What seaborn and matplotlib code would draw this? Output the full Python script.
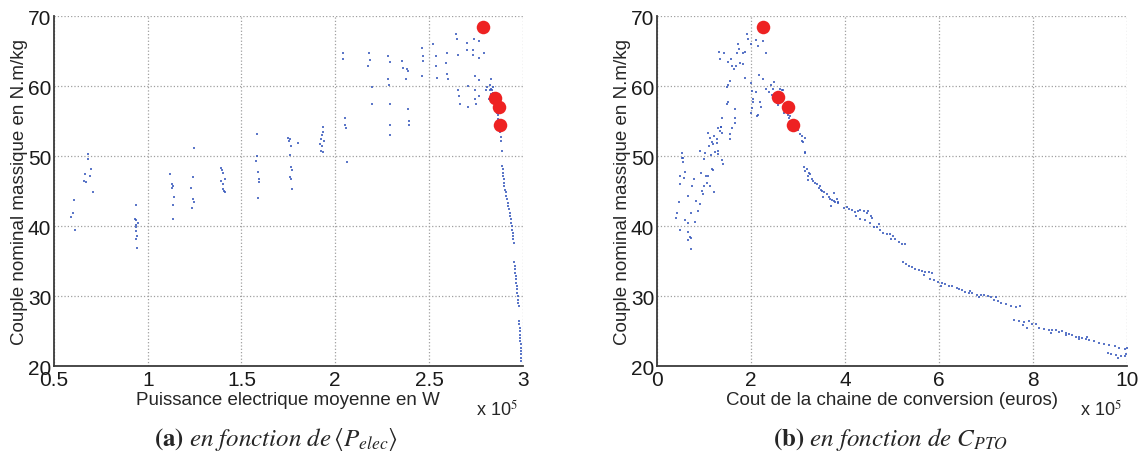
import matplotlib
matplotlib.use("Agg")
import matplotlib.pyplot as plt
import pandas as pd
import seaborn as sns

# Panneau (a) : puissance electrique moyenne (x 1e5 W) / couple nominal massique (N.m/kg)
# colonnes de solutions dispersees
front_a_nuage = [
    (0.59, 41.3), (0.60, 41.8), (0.605, 43.7), (0.61, 39.5),
    (0.66, 46.5), (0.665, 47.4), (0.67, 46.3), (0.68, 50.3), (0.68, 49.6), (0.69, 47.1), (0.70, 48.2), (0.71, 44.8),
    (0.935, 43.0), (0.93, 41.0), (0.935, 40.8), (0.94, 40.2), (0.94, 39.8), (0.935, 39.3), (0.945, 38.6),
    (0.94, 38.2), (0.945, 36.8), (0.95, 40.5),
    (1.12, 47.5), (1.13, 46.0), (1.135, 45.8), (1.13, 45.4), (1.14, 44.1), (1.135, 43.0), (1.135, 41.0),
    (1.23, 45.4), (1.24, 47.0), (1.245, 51.2), (1.24, 43.8), (1.245, 43.5), (1.235, 42.6),
    (1.39, 48.3), (1.395, 48.0), (1.40, 47.6), (1.39, 46.5), (1.40, 46.0), (1.41, 46.8), (1.40, 45.3),
    (1.405, 45.0), (1.41, 44.8),
    (1.585, 53.2), (1.585, 50.0), (1.58, 49.3), (1.59, 47.7), (1.595, 46.8), (1.595, 46.3), (1.59, 44.0),
    (1.75, 52.6), (1.755, 52.1), (1.76, 52.4), (1.76, 50.2), (1.765, 51.5), (1.765, 48.5), (1.77, 48.0),
    (1.76, 47.0), (1.765, 46.7), (1.77, 45.3), (1.80, 51.9),
    (1.92, 51.8), (1.925, 52.4), (1.93, 51.5), (1.935, 54.2), (1.935, 53.5), (1.93, 53.0), (1.925, 50.8),
    (1.935, 50.6), (1.94, 52.2),
    (2.039, 64.8), (2.04, 63.9), (2.053, 55.5), (2.05, 54.5), (2.057, 54.0), (2.062, 49.1),
    (2.178, 64.8), (2.183, 63.8), (2.174, 62.9), (2.195, 59.9), (2.195, 57.5),
    (2.284, 64.3), (2.29, 63.5), (2.279, 61.0), (2.286, 60.2), (2.293, 57.5), (2.293, 54.5), (2.293, 53.0),
    (2.355, 63.6), (2.359, 62.6), (2.382, 62.5), (2.387, 62.2), (2.378, 61.0), (2.389, 56.8), (2.396, 55.0),
    (2.393, 54.5),
    (2.465, 65.5), (2.467, 64.3), (2.47, 63.6), (2.462, 61.4),
    (2.52, 66.0), (2.538, 64.3), (2.535, 62.9), (2.542, 61.2),
    (2.591, 63.3), (2.598, 64.8), (2.598, 61.7), (2.601, 61.0),
    (2.644, 67.4), (2.648, 66.7), (2.654, 64.5), (2.657, 59.5), (2.661, 58.6), (2.663, 57.4),
    (2.702, 66.2), (2.705, 65.2), (2.707, 60.0), (2.709, 57.0),
    (2.74, 66.7), (2.737, 65.2), (2.734, 64.5), (2.769, 66.4), (2.766, 64.0), (2.794, 64.8),
    (2.744, 61.4), (2.744, 59.5), (2.748, 58.2), (2.751, 57.4), (2.769, 60.9), (2.769, 58.6),
    (2.805, 59.5), (2.812, 59.9), (2.823, 59.5), (2.833, 61.0), (2.819, 58.1), (2.84, 59.9),
    (2.825, 60.2), (2.83, 59.6), (2.835, 59.4), (2.83, 58.9), (2.84, 59.0), (2.845, 58.7),
    (2.85, 58.3), (2.855, 58.0), (2.85, 57.6), (2.86, 57.4), (2.865, 56.8), (2.865, 56.2),
    (2.87, 55.9), (2.87, 55.3), (2.875, 54.8), (2.88, 54.0), (2.88, 53.5), (2.885, 52.7),
    (2.885, 52.2), (2.89, 50.7),
]
# branche dense quasi verticale
front_a_branche = [
    (2.892, 48.6), (2.893, 48.1), (2.895, 47.6), (2.897, 47.1), (2.899, 46.7), (2.900, 46.2),
    (2.902, 45.7), (2.906, 45.2), (2.909, 44.8), (2.913, 44.3), (2.917, 43.8), (2.920, 43.3),
    (2.924, 42.9), (2.927, 42.4), (2.931, 41.9), (2.934, 41.4), (2.938, 41.0), (2.940, 40.5),
    (2.941, 40.0), (2.945, 39.5), (2.947, 39.0), (2.949, 38.6), (2.950, 38.1), (2.952, 37.6),
    (2.956, 34.8), (2.957, 34.3), (2.959, 33.8), (2.961, 33.3), (2.963, 32.9), (2.964, 32.4),
    (2.966, 31.9), (2.968, 31.4), (2.970, 31.0), (2.972, 30.5), (2.973, 30.0), (2.975, 29.5),
    (2.977, 29.0), (2.979, 28.6),
    (2.980, 26.4), (2.982, 26.0), (2.984, 25.5), (2.984, 25.0), (2.986, 24.5), (2.986, 24.0),
    (2.988, 23.6), (2.989, 23.1), (2.989, 22.6), (2.991, 22.1), (2.991, 21.7), (2.993, 21.2),
    (2.993, 20.7),
]
# solutions retenues
retenues_a = [(2.787, 68.5), (2.851, 58.3), (2.872, 57.0), (2.881, 54.4)]

# Panneau (b) : cout de la chaine de conversion (x 1e5 euros) / couple nominal massique
front_b_montee = [
    (0.43, 41.8), (0.41, 41.2), (0.48, 39.5), (0.46, 43.5), (0.50, 46.0), (0.48, 47.1), (0.55, 49.1),
    (0.53, 49.8), (0.60, 40.9), (0.65, 40.4), (0.66, 39.2), (0.70, 38.5), (0.72, 36.7), (0.73, 38.3),
    (0.65, 38.0), (0.59, 47.7), (0.58, 46.9), (0.66, 44.3), (0.73, 41.8), (0.80, 40.6), (0.75, 45.8),
    (0.78, 46.8), (0.83, 43.6), (0.87, 42.2), (0.91, 43.2), (0.93, 47.6), (0.95, 45.0), (0.98, 44.6),
    (1.01, 45.8), (1.07, 46.2), (1.05, 47.2), (1.12, 45.8), (0.91, 50.8), (1.00, 49.6), (1.09, 47.2),
    (1.16, 48.2), (1.22, 44.9), (1.20, 48.0), (1.23, 50.6), (1.10, 51.5), (1.16, 52.0), (1.27, 52.4),
    (1.30, 50.3), (1.41, 48.9), (1.34, 53.6), (1.37, 54.1), (1.55, 52.4), (1.66, 54.7),
    (1.09, 53.3), (1.12, 52.6), (1.22, 52.9), (1.27, 51.9), (1.20, 51.7), (1.02, 50.5), (1.15, 50.2),
    (1.29, 50.7), (1.39, 49.5), (0.53, 50.5), (0.55, 49.8),
    (1.39, 55.5), (1.36, 54.2), (1.30, 54.0), (1.39, 53.3), (1.55, 53.2), (1.59, 54.0),
    (1.66, 56.8), (1.67, 55.4), (1.48, 57.5), (1.51, 57.8),
    (1.51, 60.2), (1.49, 59.9), (1.55, 60.7),
    (1.33, 64.9), (1.34, 63.9), (1.43, 64.7), (1.51, 63.5), (1.60, 62.9), (1.64, 62.4), (1.57, 63.9),
    (1.69, 62.9), (1.76, 63.3), (1.83, 63.1), (1.87, 61.2),
    (1.73, 66.0), (1.74, 65.3), (1.71, 64.7), (1.82, 64.8), (1.87, 64.9),
    (1.91, 67.4), (1.94, 66.7), (2.01, 66.0), (2.11, 66.6), (2.16, 65.7), (2.25, 66.4), (2.31, 64.7),
    (2.18, 61.6), (2.25, 61.0),
]
front_b_descente = [
    (2.00, 60.5), (2.02, 59.3), (2.05, 58.1), (2.10, 59.1), (2.00, 56.2), (2.12, 55.7),
    (2.05, 57.8), (2.19, 57.8), (2.21, 57.0), (2.14, 55.9), (2.02, 56.9),
    (2.33, 59.6), (2.38, 59.1), (2.42, 60.1), (2.47, 59.6), (2.45, 58.8), (2.50, 60.6), (2.53, 58.3),
    (2.62, 59.6), (2.65, 59.4), (2.69, 59.5), (2.55, 57.6), (2.58, 57.3), (2.65, 58.0), (2.72, 56.8),
    (2.71, 56.1), (2.78, 55.9), (2.83, 55.7), (2.85, 56.3), (2.81, 55.4), (2.90, 55.0),
    (2.97, 54.5), (2.99, 54.3), (3.01, 53.8), (3.04, 53.1), (3.08, 52.9), (3.09, 52.1), (3.15, 52.6),
    (3.15, 50.5), (3.10, 52.0), (3.15, 50.6),
]
front_b_traine = [
    (3.12, 48.4), (3.19, 48.2), (3.15, 47.9), (3.24, 47.6), (3.21, 47.1), (3.26, 47.4), (3.29, 46.8),
    (3.22, 46.6), (3.33, 46.4), (3.37, 46.2), (3.40, 46.0), (3.44, 45.5), (3.47, 45.7), (3.49, 45.1),
    (3.52, 45.0), (3.56, 44.8), (3.61, 44.6), (3.54, 44.2), (3.65, 44.2), (3.69, 43.9), (3.72, 43.7),
    (3.76, 43.6), (3.79, 43.4), (3.83, 43.8), (3.76, 44.7), (3.71, 42.8), (3.85, 43.3), (3.86, 43.5),
    (3.99, 42.6), (4.04, 42.7), (4.08, 42.4), (4.15, 42.3), (4.22, 42.0), (4.28, 42.1), (4.33, 42.3),
    (4.40, 42.1), (4.47, 41.8), (4.23, 41.5), (4.33, 41.0), (4.43, 40.9), (4.54, 40.5), (4.61, 39.9),
    (4.68, 39.8), (4.75, 39.5), (4.82, 39.0), (4.89, 38.9), (4.96, 38.9), (5.03, 38.6), (5.07, 38.2),
    (5.14, 37.7), (5.21, 37.5), (5.28, 37.4), (4.99, 38.1), (4.72, 40.3), (4.56, 41.5), (4.50, 42.1),
    (4.57, 41.2),
    (5.23, 34.8), (5.29, 34.6), (5.36, 34.3), (5.43, 34.1), (5.50, 33.9), (5.57, 33.7), (5.64, 33.6),
    (5.71, 33.4), (5.78, 33.4), (5.85, 33.3), (5.68, 33.0), (5.82, 32.5), (5.89, 32.3), (5.99, 32.0),
    (6.07, 31.9), (6.14, 31.7), (6.21, 31.5), (6.28, 31.4), (6.39, 31.1), (6.49, 30.9), (6.56, 30.6),
    (6.64, 30.5), (6.71, 30.4), (6.82, 30.2), (6.89, 30.1), (6.96, 30.1), (7.04, 30.0), (7.11, 29.8),
    (7.18, 29.5), (7.25, 29.3), (7.32, 29.0), (7.43, 28.8), (7.53, 28.6), (7.64, 28.5), (7.72, 28.6),
    (6.05, 31.5), (6.86, 29.8), (7.21, 29.8), (6.42, 31.0), (6.67, 30.7),
    (7.60, 26.6), (7.71, 26.5), (7.81, 26.3), (7.92, 26.4), (7.99, 26.0), (8.06, 26.0), (7.78, 25.8),
    (7.88, 25.5), (8.13, 25.5), (8.24, 25.3), (8.34, 25.2), (8.41, 25.1), (8.49, 25.1), (8.56, 24.9),
    (8.63, 25.0), (8.70, 24.7), (8.77, 24.6), (8.84, 24.4), (8.91, 24.2), (8.98, 24.1), (9.05, 24.0),
    (9.12, 23.9), (9.15, 24.1), (8.38, 24.7), (8.70, 24.4), (8.98, 23.8),
    (9.20, 23.7), (9.31, 23.6), (9.41, 23.3), (9.52, 23.2), (9.63, 23.0), (9.74, 22.9), (9.84, 22.6),
    (9.95, 22.5), (10.0, 22.6), (9.59, 21.8), (9.66, 21.7), (9.77, 21.6), (9.81, 21.2), (9.88, 21.4),
    (9.95, 21.5), (9.99, 21.7),
]
retenues_b = [(2.25, 68.5), (2.58, 58.4), (2.79, 57.0), (2.90, 54.4)]

xticks_a = [0.5, 1, 1.5, 2, 2.5, 3]
xticks_b = [0, 2, 4, 6, 8, 10]
yticks = [20, 30, 40, 50, 60, 70]

sns.set_style("white")
plt.rcParams['font.family'] = ['Liberation Sans', 'DejaVu Sans']
plt.rcParams['mathtext.fontset'] = 'stix'

bleu = "#3355bb"
rouge = "#ee2222"

fig = plt.figure(figsize=(11.46, 4.52), dpi=100)
ax1 = fig.add_axes([0.0471, 0.188, 0.409, 0.774])
ax2 = fig.add_axes([0.5733, 0.188, 0.410, 0.774])


def Panneau(ax, nuages, retenues, xlim, xticks, xlabel, legende, cx):
    for pts, taille in nuages:
        df = pd.DataFrame(pts, columns=["x", "y"])
        sns.scatterplot(data=df, x="x", y="y", ax=ax, color=bleu, marker="s",
                        s=taille, linewidth=0, alpha=0.8, zorder=3)
    df = pd.DataFrame(retenues, columns=["x", "y"])
    sns.scatterplot(data=df, x="x", y="y", ax=ax, color=rouge, s=95,
                    linewidth=0, zorder=4)
    ax.set_xlim(*xlim)
    ax.set_ylim(20, 70)
    ax.set_xticks(xticks)
    ax.set_xticklabels([f"{t:g}" for t in xticks])
    ax.set_yticks(yticks)
    ax.grid(True, color="#a0a0a0", linestyle=":", linewidth=0.9)
    ax.set_axisbelow(True)
    for s in ["top", "right"]:
        ax.spines[s].set_visible(False)
    for s in ["left", "bottom"]:
        ax.spines[s].set_color("#3a3a3a")
        ax.spines[s].set_linewidth(1.3)
    ax.tick_params(axis="y", direction="in", length=4, width=1, labelsize=15, pad=2,
                   colors="#1a1a1a")
    ax.tick_params(axis="x", direction="in", length=4, width=1, labelsize=15, pad=3,
                   colors="#1a1a1a")
    ax.set_xlabel(xlabel, fontsize=13.5, labelpad=1)
    ax.set_ylabel("Couple nominal massique en N.m/kg", fontsize=13.5, labelpad=0)
    ax.text(0.99, -0.095, r"x 10$^{5}$", transform=ax.transAxes, ha="right", va="top",
            fontsize=13)
    fig.text(cx, 0.027, legende, ha="center", va="center", fontsize=18,
             family=["DejaVu Serif"])


Panneau(ax1, [(front_a_nuage, 2.2), (front_a_branche, 4)], retenues_a, (0.5, 3), xticks_a,
        "Puissance electrique moyenne en W",
        r"$\mathbf{(a)}\ \mathit{en\ fonction\ de}\,\langle P_{elec}\rangle$", 0.241)
Panneau(ax2, [(front_b_montee, 2.2), (front_b_descente, 2.2), (front_b_traine, 2.2)], retenues_b,
        (0, 10), xticks_b, "Cout de la chaine de conversion (euros)",
        r"$\mathbf{(b)}\ \mathit{en\ fonction\ de}\ C_{PTO}$", 0.777)

plt.savefig("out.png", dpi=100)
plt.close()
